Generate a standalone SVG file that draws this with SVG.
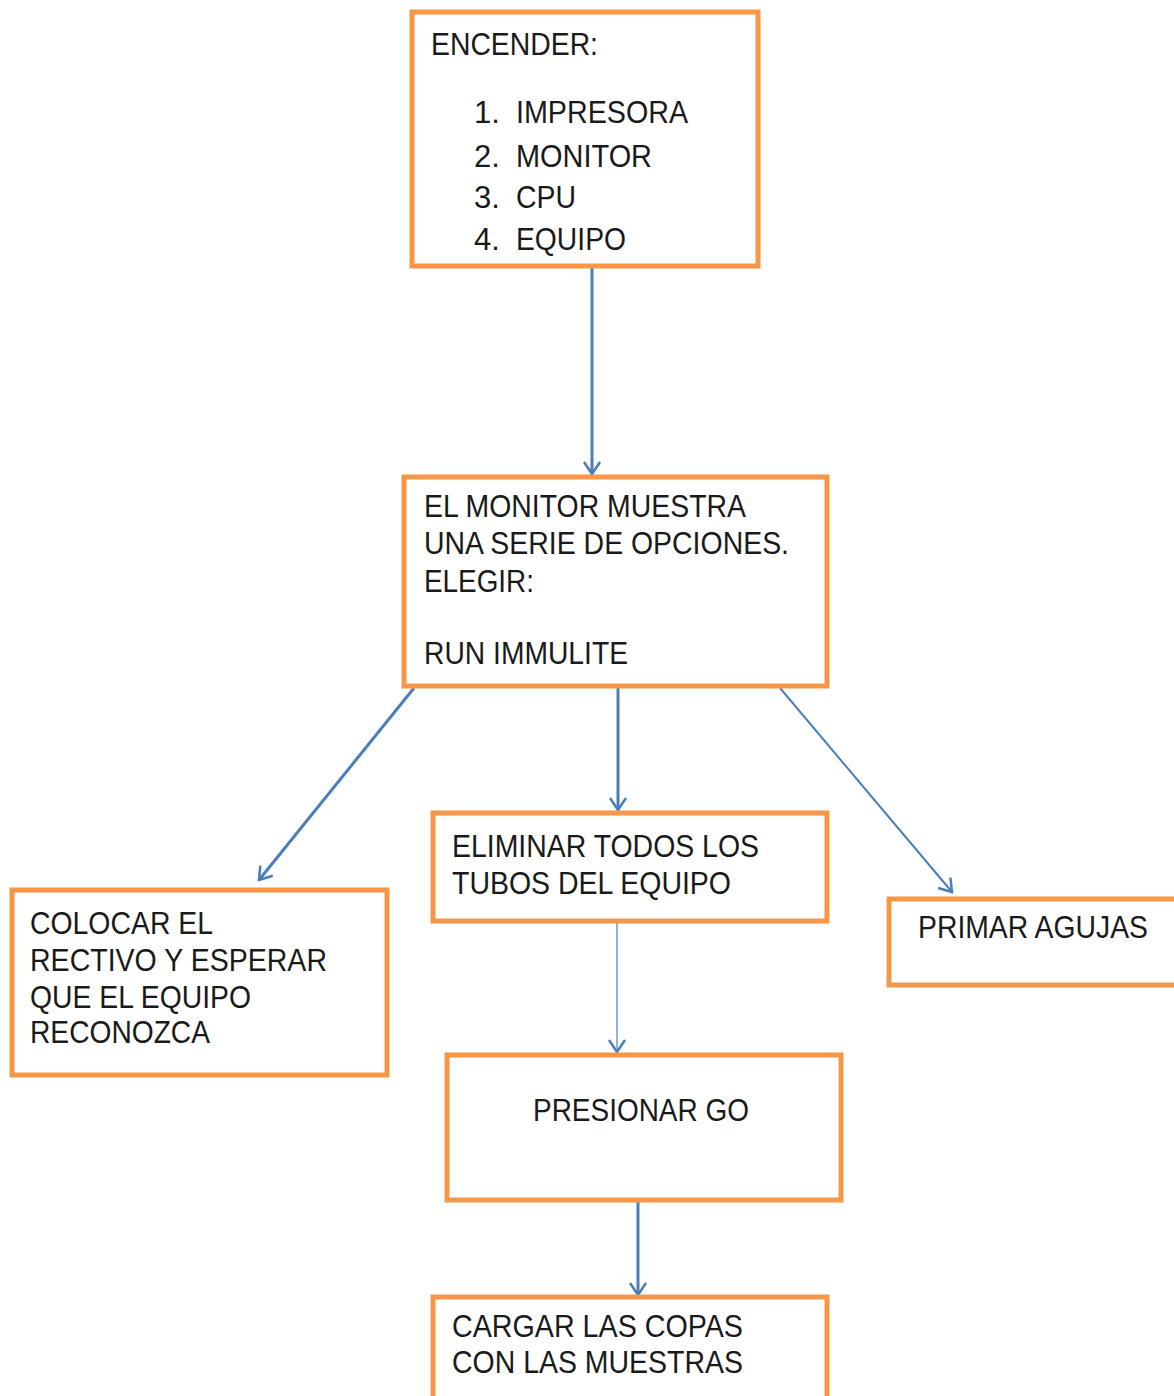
<svg xmlns="http://www.w3.org/2000/svg" width="1174" height="1396" viewBox="0 0 1174 1396">
<defs>
<style>
.box{fill:#fff;stroke:#F79646;stroke-width:5}
.t{font-family:"Liberation Sans",Arial,sans-serif;font-size:31px;fill:#1a1a1a}
.c{fill:none;stroke:#4A7EBB;stroke-width:3}
.c2{fill:none;stroke:#4A7EBB;stroke-width:2}
.c1{fill:none;stroke:#4A7EBB;stroke-width:1.2}
</style>
<marker id="ah" markerUnits="userSpaceOnUse" markerWidth="24" markerHeight="24" refX="14" refY="12" orient="auto" viewBox="0 0 24 24">
<path d="M2,4 L14,12 L2,20" fill="none" stroke="#4A7EBB" stroke-width="2.5"/>
</marker>
</defs>
<rect width="1174" height="1396" fill="#fff"/>
<g id="connectors">
<line class="c" x1="592" y1="266" x2="592" y2="474" marker-end="url(#ah)"/>
<line class="c" x1="414" y1="688" x2="259" y2="880" marker-end="url(#ah)"/>
<line class="c" x1="618" y1="686" x2="618" y2="810" marker-end="url(#ah)"/>
<line class="c2" x1="780" y1="688" x2="952" y2="892" marker-end="url(#ah)"/>
<line class="c1" x1="617" y1="921" x2="617" y2="1052" marker-end="url(#ah)"/>
<line class="c" x1="638" y1="1202" x2="638" y2="1295" marker-end="url(#ah)"/>
</g>
<g id="n1">
<rect class="box" x="412" y="12" width="346" height="254"/>
<text class="t" x="431" y="55" textLength="167" lengthAdjust="spacingAndGlyphs">ENCENDER:</text>
<text class="t" x="474" y="123">1.</text>
<text class="t" x="516" y="123" textLength="172" lengthAdjust="spacingAndGlyphs">IMPRESORA</text>
<text class="t" x="474" y="167">2.</text>
<text class="t" x="516" y="167" textLength="136" lengthAdjust="spacingAndGlyphs">MONITOR</text>
<text class="t" x="474" y="208">3.</text>
<text class="t" x="516" y="208" textLength="60" lengthAdjust="spacingAndGlyphs">CPU</text>
<text class="t" x="474" y="250">4.</text>
<text class="t" x="516" y="250" textLength="110" lengthAdjust="spacingAndGlyphs">EQUIPO</text>
</g>
<g id="n2">
<rect class="box" x="404" y="477" width="423" height="209"/>
<text class="t" x="424" y="517" textLength="322" lengthAdjust="spacingAndGlyphs">EL MONITOR MUESTRA</text>
<text class="t" x="424" y="554" textLength="365" lengthAdjust="spacingAndGlyphs">UNA SERIE DE OPCIONES.</text>
<text class="t" x="424" y="592" textLength="110" lengthAdjust="spacingAndGlyphs">ELEGIR:</text>
<text class="t" x="424" y="664" textLength="204" lengthAdjust="spacingAndGlyphs">RUN IMMULITE</text>
</g>
<g id="n3">
<rect class="box" x="433" y="813" width="394" height="108"/>
<text class="t" x="452" y="857" textLength="307" lengthAdjust="spacingAndGlyphs">ELIMINAR TODOS LOS</text>
<text class="t" x="452" y="894" textLength="279" lengthAdjust="spacingAndGlyphs">TUBOS DEL EQUIPO</text>
</g>
<g id="n4">
<rect class="box" x="12" y="890" width="375" height="185"/>
<text class="t" x="30" y="934" textLength="183" lengthAdjust="spacingAndGlyphs">COLOCAR EL</text>
<text class="t" x="30" y="971" textLength="297" lengthAdjust="spacingAndGlyphs">RECTIVO Y ESPERAR</text>
<text class="t" x="30" y="1008" textLength="221" lengthAdjust="spacingAndGlyphs">QUE EL EQUIPO</text>
<text class="t" x="30" y="1043" textLength="180" lengthAdjust="spacingAndGlyphs">RECONOZCA</text>
</g>
<g id="n5">
<rect class="box" x="889" y="899" width="290" height="86"/>
<text class="t" x="918" y="938" textLength="230" lengthAdjust="spacingAndGlyphs">PRIMAR AGUJAS</text>
</g>
<g id="n6">
<rect class="box" x="447" y="1055" width="394" height="145"/>
<text class="t" x="533" y="1121" textLength="216" lengthAdjust="spacingAndGlyphs">PRESIONAR GO</text>
</g>
<g id="n7">
<rect class="box" x="433" y="1297" width="394" height="120"/>
<text class="t" x="452" y="1337" textLength="291" lengthAdjust="spacingAndGlyphs">CARGAR LAS COPAS</text>
<text class="t" x="452" y="1373" textLength="291" lengthAdjust="spacingAndGlyphs">CON LAS MUESTRAS</text>
</g>
</svg>
